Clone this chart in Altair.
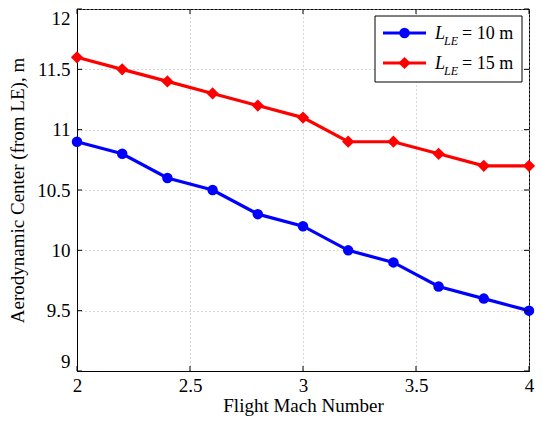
import altair as alt
import pandas as pd

mach = [2.0, 2.2, 2.4, 2.6, 2.8, 3.0, 3.2, 3.4, 3.6, 3.8, 4.0]
ac_10 = [10.9, 10.8, 10.6, 10.5, 10.3, 10.2, 10.0, 9.9, 9.7, 9.6, 9.5]
ac_15 = [11.6, 11.5, 11.4, 11.3, 11.2, 11.1, 10.9, 10.9, 10.8, 10.7, 10.7]
x_ticks = [2, 2.5, 3, 3.5, 4]
y_ticks = [9, 9.5, 10, 10.5, 11, 11.5, 12]

W, H = 452, 362
FONT = "Liberation Serif"

df10 = pd.DataFrame({"mach": mach, "ac": ac_10})
df15 = pd.DataFrame({"mach": mach, "ac": ac_15})

xs = alt.Scale(domain=[2, 4], nice=False, zero=False)
ys = alt.Scale(domain=[9, 12], nice=False, zero=False)

axis_common = dict(labelFont=FONT, labelFontSize=19, labelColor="black",
                   titleFont=FONT, titleFontSize=19, titleFontWeight="normal",
                   titleColor="black", domainColor="black", ticks=False,
                   gridColor="#b0b0b0", gridDash=[1, 3], gridWidth=1,
                   format="~g")

x_axis = alt.Axis(values=x_ticks, title="Flight Mach Number",
                  labelPadding=5, titlePadding=1, labelFlush=False, **axis_common)
y_axis = alt.Axis(values=y_ticks, title="Aerodynamic Center (from LE), m",
                  labelPadding=7, titlePadding=9, labelFlush=True, **axis_common)

X = alt.X("mach:Q", scale=xs, axis=x_axis)
Y = alt.Y("ac:Q", scale=ys, axis=y_axis)

line10 = alt.Chart(df10).mark_line(color="#0000ff", strokeWidth=3.2).encode(x=X, y=Y)
pts10 = alt.Chart(df10).mark_point(shape="circle", filled=True, size=110, color="#0000ff", opacity=1).encode(x=X, y=Y)
line15 = alt.Chart(df15).mark_line(color="#ff0000", strokeWidth=3.2).encode(x=X, y=Y)
pts15 = alt.Chart(df15).mark_point(shape="diamond", filled=True, size=150, color="#ff0000", opacity=1).encode(x=X, y=Y)

# inward ticks on all four sides
xt = pd.DataFrame({"mach": x_ticks})
yt = pd.DataFrame({"ac": y_ticks})
tick_b = alt.Chart(xt).mark_rule(color="black").encode(x=X, y=alt.value(H), y2=alt.value(H - 5))
tick_t = alt.Chart(xt).mark_rule(color="black").encode(x=X, y=alt.value(0), y2=alt.value(5))
tick_l = alt.Chart(yt).mark_rule(color="black").encode(y=Y, x=alt.value(0), x2=alt.value(5))
tick_r = alt.Chart(yt).mark_rule(color="black").encode(y=Y, x=alt.value(W), x2=alt.value(W - 5))

# legend
lx1 = W - 7
lx0 = lx1 - 147
ly0, ly1 = 7, 73
leg_box = alt.Chart(pd.DataFrame({"a": [0]})).mark_rect(fill="white", stroke="black", strokeWidth=1).encode(
    x=alt.value(lx0), x2=alt.value(lx1), y=alt.value(ly0), y2=alt.value(ly1))

def leg_row(yc, color, shape, size, label):
    base = alt.Chart(pd.DataFrame({"a": [0]}))
    ln = base.mark_rule(color=color, strokeWidth=3.2).encode(
        x=alt.value(lx0 + 8), x2=alt.value(lx0 + 51), y=alt.value(yc))
    mk = base.mark_point(shape=shape, filled=True, size=size, color=color, opacity=1).encode(
        x=alt.value(lx0 + 29.5), y=alt.value(yc))
    t1 = base.mark_text(font=FONT, fontSize=18, fontStyle="italic", align="left", baseline="alphabetic").encode(
        x=alt.value(lx0 + 60), y=alt.value(yc + 6), text=alt.value("L"))
    t2 = base.mark_text(font=FONT, fontSize=12, fontStyle="italic", align="left", baseline="alphabetic").encode(
        x=alt.value(lx0 + 69), y=alt.value(yc + 12), text=alt.value("LE"))
    t3 = base.mark_text(font=FONT, fontSize=18, align="left", baseline="alphabetic").encode(
        x=alt.value(lx0 + 87), y=alt.value(yc + 6), text=alt.value(label))
    return [ln, mk, t1, t2, t3]

legend = [leg_box] + leg_row(24, "#0000ff", "circle", 110, "= 10 m") + leg_row(54, "#ff0000", "diamond", 150, "= 15 m")

chart = alt.layer(line10, line15, pts10, pts15, tick_b, tick_t, tick_l, tick_r, *legend).properties(
    width=W, height=H,
    autosize=alt.AutoSizeParams(type="none"),
    padding={"left": 69, "top": 1, "right": 6, "bottom": 46},
    background="white",
).configure_view(stroke="black", strokeWidth=1)

chart.save("out.html", embed_options={"renderer": "svg", "actions": False})
